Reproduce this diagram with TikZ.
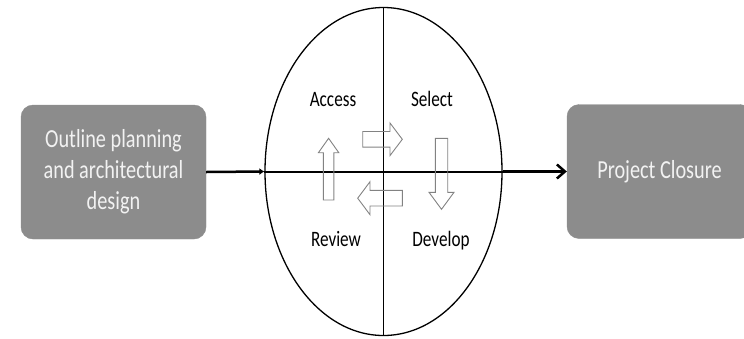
\documentclass[tikz,border=0pt]{standalone}
\usepackage{fontspec}
\setmainfont{Carlito}[FakeStretch=0.78]
\usetikzlibrary{shapes.geometric,arrows.meta}
\definecolor{boxgray}{RGB}{140,140,140}
\definecolor{boxtext}{RGB}{242,242,242}
\definecolor{outlinegray}{RGB}{130,130,130}
\begin{document}
\begin{tikzpicture}[x=1pt,y=-1pt,
  phasebox/.style={draw=boxgray, fill=boxgray, rounded corners=12pt,
    minimum width=185pt, minimum height=134pt, inner sep=0pt,
    text=boxtext, font=\fontsize{26}{31}\selectfont, align=center},
  quadlabel/.style={anchor=base, inner sep=0pt, font=\fontsize{22}{26}\selectfont},
  blockarrow/.style={draw=outlinegray, line width=0.9pt, line join=miter},
  axis/.style={line width=1.3pt},
]
\useasboundingbox (0,0) rectangle (744,338);

% phase boxes on either side
\node[phasebox] (plan) at (113.5,172) {Outline planning\\and architectural\\design};
\node[phasebox] (close) at (659.5,171.5) {Project Closure};

% the iterative cycle
\node[draw, ellipse, line width=1.3pt, minimum width=237pt, minimum height=328pt,
      inner sep=0pt] (cyc) at (383.5,171.5) {};
\draw[axis] (cyc.north) -- (cyc.south);
\draw[line width=2pt] (cyc.west) -- (cyc.east);

% flow between phases
\draw[line width=2.5pt, -{Latex[length=5pt,width=7pt]}] (plan.east) -- (cyc.west);
\draw[line width=2.5pt, -{Straight Barb[length=8pt,width=14pt]}] (cyc.east) -- (close.west);

% quadrant labels
\node[quadlabel] (access)  at (333,106.7) {Access};
\node[quadlabel] (select)  at (432,106.7) {Select};
\node[quadlabel] (review)  at (336,246)   {Review};
\node[quadlabel] (develop) at (441,246)   {Develop};

% outlined block arrows around the centre
\draw[blockarrow] (362.7,131.5) -- (390,131.5) -- (390,123) -- (402.3,139.3)
  -- (390,155.6) -- (390,147.1) -- (362.7,147.1) -- cycle;
\draw[blockarrow] (435.3,138.3) -- (447.7,138.3) -- (447.7,192.3) -- (454,192.3)
  -- (441.5,209.3) -- (429,192.3) -- (435.3,192.3) -- cycle;
\draw[blockarrow] (402.3,190.4) -- (402.3,206) -- (370,206) -- (370,214.7)
  -- (357.7,198.2) -- (370,181.7) -- (370,190.4) -- cycle;
\draw[blockarrow] (323.3,200) -- (323.3,152.7) -- (318.4,152.7) -- (328.6,138.3)
  -- (338.8,152.7) -- (333.9,152.7) -- (333.9,200) -- cycle;
\end{tikzpicture}
\end{document}
